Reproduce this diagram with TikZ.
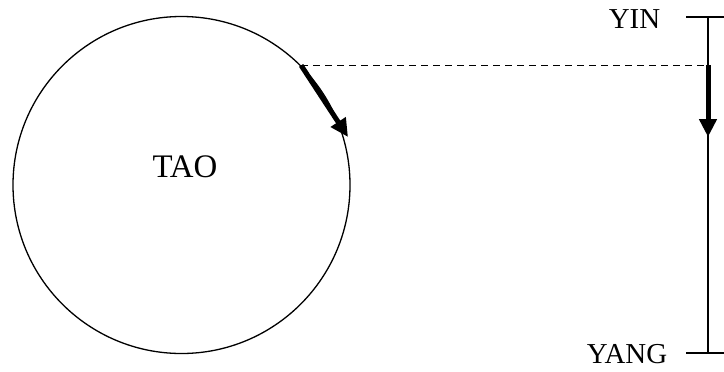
\documentclass[tikz,border=0pt]{standalone}
\usepackage{fontspec}
\setmainfont{Liberation Serif}
\usetikzlibrary{arrows.meta}
\tikzstyle{label text}=[inner sep=0pt, anchor=base, font=\fontsize{29}{33}\selectfont]
\tikzstyle{thin line}=[line width=1.3bp]
\tikzstyle{fat arrow}=[line width=5bp, -{Triangle[length=18bp,width=17bp]}]

\begin{document}
\begin{tikzpicture}[x=1bp,y=-1bp]
      \useasboundingbox (0,0) rectangle (724,371);
      \node[circle, draw, thin line, minimum size=337bp, inner sep=0pt] (tao) at (181.5,185) {};
      \node[label text, font=\fontsize{33}{37}\selectfont] (taotext) at (185,177) {TAO};
      \node[label text] (yin) at (634.5,28) {YIN};
      \node[label text] (yang) at (627,363) {YANG};
      \coordinate (top) at (708,17);
      \coordinate (bottom) at (708,353);
      \coordinate (topend) at (724,17);
      \coordinate (bottomend) at (724,353);
      \coordinate (push) at (348,137);
	\draw[thin line] (top)--(bottom);
	\draw[thin line] (top -| 686,0)--(topend);
	\draw[thin line] (bottom -| 686,0)--(bottomend);
	\draw[thin line, dashed, dash pattern=on 7bp off 5bp] (tao.45)--(tao.45 -| top);
	\draw[fat arrow] (tao.45)--(push);
	\draw[fat arrow] (tao.45 -| top)--(708,137);
      \end{tikzpicture}
\end{document}
